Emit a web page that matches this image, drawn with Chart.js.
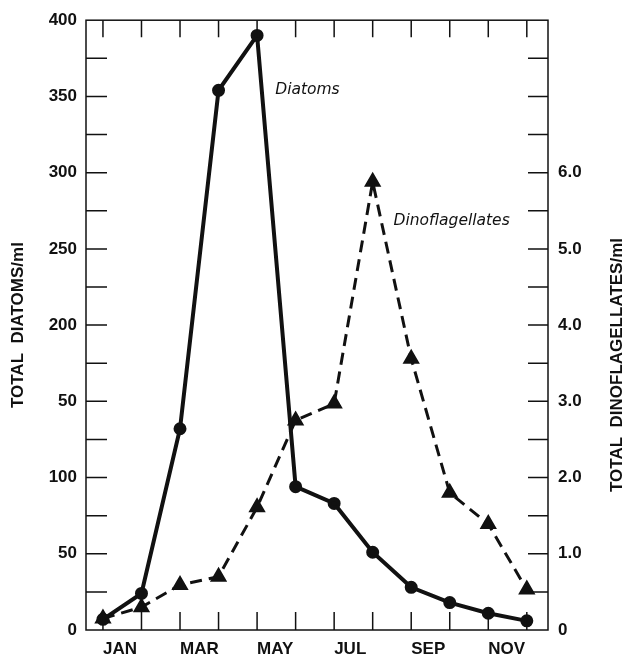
<!DOCTYPE html>
<html>
<head>
<meta charset="utf-8">
<title>Diatoms and Dinoflagellates</title>
<script src="https://cdn.jsdelivr.net/npm/chart.js@4.4.1/dist/chart.umd.min.js"></script>
<style>
  html, body { margin: 0; padding: 0; background: #fff; }
  #wrap { width: 626px; height: 658px; }
</style>
</head>
<body>
<div id="wrap"><canvas id="chart" width="626" height="658"></canvas></div>
<script>
const months = ["JAN", "FEB", "MAR", "APR", "MAY", "JUN", "JUL", "AUG", "SEP", "OCT", "NOV", "DEC"];
const diatoms = [7, 24, 132, 354, 390, 94, 83, 51, 28, 18, 11, 6];
const dinoflagellates = [0.15, 0.3, 0.59, 0.7, 1.61, 2.75, 2.97, 5.88, 3.56, 1.8, 1.39, 0.53];

// left labels as printed (the 150 tick reads "50" in the original)
const leftTickLabels = ["0", "50", "100", "50", "200", "250", "300", "350", "400"];
const rightTickLabels = ["0", "1.0", "2.0", "3.0", "4.0", "5.0", "6.0"];

const INK = "#111";
const FONT = "Liberation Sans, Arial, sans-serif";

function points(values) {
  return values.map((v, i) => ({ x: i, y: v }));
}

// inward tick marks, frame, rotated axis titles, series labels
const decorations = {
  id: "decorations",
  afterDraw(chart) {
    const { ctx, chartArea: a, scales } = chart;
    const x = scales.x, y = scales.y, y1 = scales.y1;
    ctx.save();
    ctx.strokeStyle = INK;
    ctx.lineWidth = 1.5;
    ctx.strokeRect(a.left, a.top, a.right - a.left, a.bottom - a.top);

    ctx.beginPath();
    for (let v = 25; v < 400; v += 25) {
      const py = y.getPixelForValue(v);
      ctx.moveTo(a.left, py);
      ctx.lineTo(a.left + 21, py);
    }
    for (let v = 0.5; v < 8; v += 0.5) {
      const py = y1.getPixelForValue(v);
      ctx.moveTo(a.right, py);
      ctx.lineTo(a.right - 20, py);
    }
    months.forEach((m, i) => {
      const px = x.getPixelForValue(i);
      ctx.moveTo(px, a.bottom);
      ctx.lineTo(px, a.bottom - 18);
      ctx.moveTo(px, a.top);
      ctx.lineTo(px, a.top + 17);
    });
    ctx.stroke();

    ctx.fillStyle = INK;
    ctx.textAlign = "center";
    ctx.textBaseline = "middle";
    ctx.font = "bold 17px " + FONT;
    ctx.save();
    ctx.translate(18, (a.top + a.bottom) / 2);
    ctx.rotate(-Math.PI / 2);
    ctx.fillText("TOTAL  DIATOMS/ml", 0, 0);
    ctx.restore();
    ctx.save();
    ctx.translate(617, 365);
    ctx.rotate(-Math.PI / 2);
    ctx.fillText("TOTAL  DINOFLAGELLATES/ml", 0, 0);
    ctx.restore();

    ctx.textAlign = "left";
    ctx.font = "italic 15.5px DejaVu Sans, sans-serif";
    ctx.fillText("Diatoms", x.getPixelForValue(4.47), y.getPixelForValue(354));
    ctx.fillText("Dinoflagellates", x.getPixelForValue(7.54), y.getPixelForValue(268));
    ctx.restore();
  },
};

new Chart(document.getElementById("chart"), {
  type: "line",
  data: {
    datasets: [
      {
        label: "Diatoms",
        data: points(diatoms),
        yAxisID: "y",
        borderColor: INK,
        backgroundColor: INK,
        borderWidth: 4,
        pointRadius: 4.5,
        pointStyle: "circle",
        tension: 0,
      },
      {
        label: "Dinoflagellates",
        data: points(dinoflagellates),
        yAxisID: "y1",
        borderColor: INK,
        backgroundColor: INK,
        borderWidth: 3,
        borderDash: [12, 7],
        pointRadius: 7,
        pointStyle: "triangle",
        tension: 0,
      },
    ],
  },
  options: {
    responsive: false,
    animation: false,
    layout: { padding: { top: 16, left: 0, right: 0, bottom: 0 } },
    plugins: { legend: { display: false }, tooltip: { enabled: false } },
    scales: {
      x: {
        type: "linear",
        min: -0.44,
        max: 11.55,
        afterFit: (s) => { s.height = 28; },
        grid: { display: false, drawTicks: false },
        border: { display: false },
        ticks: {
          stepSize: 1,
          includeBounds: false,
          autoSkip: false,
          maxRotation: 0,
          align: "start",
          padding: 9,
          color: INK,
          font: { family: FONT, size: 17, weight: "bold" },
          callback: (v) => (Number.isInteger(v) && v % 2 === 0 && months[v] ? months[v] : ""),
        },
      },
      y: {
        position: "left",
        min: 0,
        max: 400,
        afterFit: (s) => { s.width = 86; },
        grid: { display: false, drawTicks: false },
        border: { display: false },
        ticks: {
          stepSize: 50,
          padding: 9,
          color: INK,
          font: { family: FONT, size: 17, weight: "bold" },
          callback: (v) => leftTickLabels[v / 50] ?? "",
        },
      },
      y1: {
        position: "right",
        min: 0,
        max: 8,
        afterFit: (s) => { s.width = 78; },
        grid: { display: false, drawTicks: false },
        border: { display: false },
        ticks: {
          stepSize: 1,
          padding: 10,
          color: INK,
          font: { family: FONT, size: 17, weight: "bold" },
          callback: (v) => rightTickLabels[v] ?? "",
        },
      },
    },
  },
  plugins: [decorations],
});
</script>
</body>
</html>
